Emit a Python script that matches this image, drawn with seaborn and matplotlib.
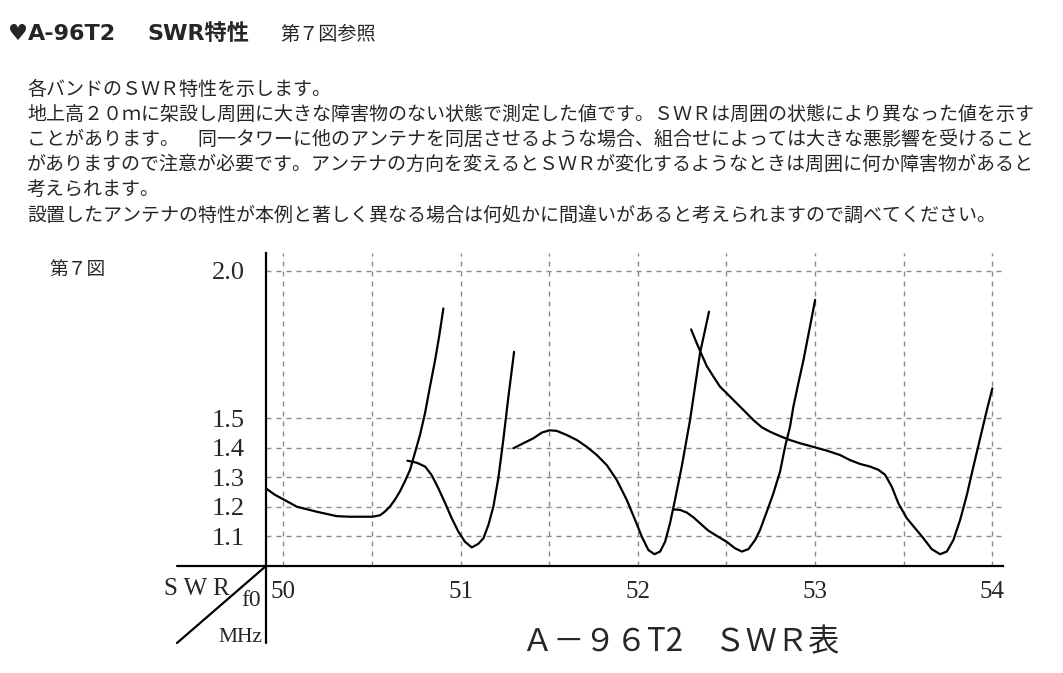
import matplotlib
matplotlib.use("Agg")
import matplotlib.pyplot as plt
import seaborn as sns

sns.set_theme(style="white")
plt.rcParams['font.family'] = ['Noto Sans CJK JP', 'DejaVu Sans']

# ---------------- data ----------------
c1_mhz = [49.902, 49.953, 50.000, 50.076, 50.188, 50.301, 50.376, 50.452, 50.502,
          50.546, 50.574, 50.602, 50.630, 50.658, 50.686, 50.715, 50.743, 50.771,
          50.799, 50.827, 50.856, 50.880, 50.903]
c1_swr = [1.263, 1.241, 1.226, 1.201, 1.184, 1.169, 1.167, 1.167, 1.167,
          1.172, 1.185, 1.202, 1.225, 1.253, 1.287, 1.326, 1.385, 1.444,
          1.517, 1.607, 1.697, 1.782, 1.873]

c2_mhz = [50.700, 50.753, 50.800, 50.837, 50.875, 50.913, 50.950, 50.988, 51.025,
          51.063, 51.100, 51.129, 51.157, 51.185, 51.213, 51.241, 51.270, 51.302]
c2_swr = [1.357, 1.350, 1.337, 1.308, 1.263, 1.213, 1.162, 1.116, 1.082,
          1.063, 1.075, 1.094, 1.139, 1.201, 1.297, 1.427, 1.574, 1.726]

c3_mhz = [51.298, 51.354, 51.411, 51.458, 51.501, 51.543, 51.599, 51.656, 51.712,
          51.769, 51.825, 51.881, 51.938, 51.985, 52.023, 52.060, 52.094, 52.126,
          52.154, 52.182, 52.210, 52.248, 52.295, 52.351, 52.402]
c3_swr = [1.399, 1.416, 1.433, 1.452, 1.460, 1.458, 1.444, 1.427, 1.404,
          1.376, 1.342, 1.292, 1.224, 1.156, 1.099, 1.054, 1.040, 1.049,
          1.082, 1.145, 1.224, 1.337, 1.495, 1.721, 1.862]

c4_mhz = [52.201, 52.239, 52.277, 52.314, 52.351, 52.398, 52.446, 52.502, 52.549,
          52.587, 52.624, 52.662, 52.690, 52.728, 52.765, 52.803, 52.831, 52.859,
          52.878, 52.906, 52.935, 52.968, 53.001]
c4_swr = [1.192, 1.190, 1.181, 1.165, 1.145, 1.120, 1.102, 1.082, 1.060,
          1.049, 1.057, 1.088, 1.122, 1.184, 1.246, 1.320, 1.404, 1.472,
          1.540, 1.619, 1.698, 1.800, 1.902]

c5_mhz = [52.301, 52.333, 52.361, 52.389, 52.427, 52.464, 52.511, 52.559, 52.606,
          52.652, 52.700, 52.747, 52.803, 52.859, 52.916, 53.001, 53.067, 53.142,
          53.198, 53.254, 53.311, 53.358, 53.396, 53.433, 53.471, 53.518, 53.565,
          53.612, 53.659, 53.706, 53.744, 53.781, 53.819, 53.857, 53.894, 53.932,
          53.970, 54.001]
c5_swr = [1.802, 1.755, 1.716, 1.678, 1.642, 1.608, 1.580, 1.551, 1.523,
          1.495, 1.470, 1.455, 1.440, 1.427, 1.416, 1.402, 1.391, 1.376,
          1.359, 1.346, 1.337, 1.326, 1.309, 1.269, 1.212, 1.162, 1.128,
          1.094, 1.057, 1.040, 1.049, 1.088, 1.156, 1.241, 1.337, 1.433,
          1.529, 1.602]

curves = [(c1_mhz, c1_swr), (c2_mhz, c2_swr), (c3_mhz, c3_swr),
          (c4_mhz, c4_swr), (c5_mhz, c5_swr)]

x_ticks = [50, 51, 52, 53, 54]
x_tick_labels = ["50", "51", "52", "53", "54"]
x_half_grid = [50.5, 51.5, 52.5, 53.5]
y_ticks = [1.1, 1.2, 1.3, 1.4, 1.5, 2.0]
y_tick_labels = ["1.1", "1.2", "1.3", "1.4", "1.5", "2.0"]

title_mark = "♥"
title_model = "A-96T2"
title_swr = "SWR特性"
title_ref = "第７図参照"
body_lines = [
    "各バンドのＳＷＲ特性を示します。",
    "地上高２０ｍに架設し周囲に大きな障害物のない状態で測定した値です。ＳＷＲは周囲の状態により異なった値を示す",
    "ことがあります。　同一タワーに他のアンテナを同居させるような場合、組合せによっては大きな悪影響を受けること",
    "がありますので注意が必要です。アンテナの方向を変えるとＳＷＲが変化するようなときは周囲に何か障害物があると",
    "考えられます。",
    "設置したアンテナの特性が本例と著しく異なる場合は何処かに間違いがあると考えられますので調べてください。",
]
fig_label = "第７図"
corner_swr = "S W R"
corner_f0 = "f0"
corner_mhz = "MHz"
chart_title = "Ａ－９６T2　ＳＷＲ表"

# ---------------- figure ----------------
W, H = 1063, 673
fig = plt.figure(figsize=(W / 100, H / 100), dpi=100)
fig.patch.set_facecolor("white")

def fx(px):
    return px / W

def fy(py):
    return 1 - py / H

ax_l, ax_r, ax_t, ax_b = 266, 1003, 253, 566
ax = fig.add_axes([fx(ax_l), fy(ax_b), (ax_r - ax_l) / W, (ax_b - ax_t) / H])
ax.set_facecolor("white")

for mhz, swr in curves:
    sns.lineplot(x=mhz, y=swr, ax=ax, color="black", linewidth=1.6,
                 sort=False, estimator=None, zorder=3)
for ln in ax.get_lines():
    ln.set_solid_joinstyle("round")
    ln.set_solid_capstyle("round")

ax.set_xlim(49.902, 54.061)
ax.set_ylim(1.0, 2.061)

ax.set_xticks(x_ticks)
ax.set_xticks(x_half_grid, minor=True)
ax.set_xticklabels(x_tick_labels, fontfamily="Liberation Serif", fontsize=18)
ax.set_yticks(y_ticks)
ax.set_yticklabels(y_tick_labels, fontfamily="Liberation Serif", fontsize=19)
ax.tick_params(axis="both", which="both", length=0)
ax.tick_params(axis="x", pad=11)
ax.tick_params(axis="y", pad=15)

grid_kw = dict(color="#8a8a8a", linewidth=1.0, linestyle=(0, (3.6, 3.6)))
ax.grid(True, axis="x", which="both", **grid_kw)
ax.grid(True, axis="y", which="major", **grid_kw)
ax.set_axisbelow(True)

for s in ["top", "right"]:
    ax.spines[s].set_visible(False)
for s in ["left", "bottom"]:
    ax.spines[s].set_color("black")
    ax.spines[s].set_linewidth(1.6)

# axis extensions and corner diagonal
ext_x = (177 - ax_l) / (ax_r - ax_l)
ext_y = -(643 - ax_b) / (ax_b - ax_t)
line_kw = dict(transform=ax.transAxes, clip_on=False, color="black", linewidth=1.6)
ax.plot([0, 0], [0, ext_y], **line_kw)
ax.plot([ext_x, 0], [0, 0], **line_kw)
ax.plot([ext_x, 0], [ext_y, 0], **line_kw)

# corner labels
serif = "Liberation Serif"
fig.text(fx(164), fy(589), corner_swr, fontfamily=serif, fontsize=18,
         ha="left", va="center")
fig.text(fx(261), fy(600), corner_f0, fontfamily=serif, fontsize=17,
         ha="right", va="center")
fig.text(fx(262), fy(637), corner_mhz, fontfamily=serif, fontsize=15.5,
         ha="right", va="center")

# chart title below
fig.text(fx(681), fy(642), chart_title, fontsize=22.5, ha="center", va="center")

# figure label
fig.text(fx(49), fy(269), fig_label, fontsize=13.5, ha="left", va="center")

# heading
cjk = ['Noto Sans CJK JP', 'DejaVu Sans']
head = ['DejaVu Sans', 'Noto Sans CJK JP']
fig.text(fx(8), fy(34), title_mark, family=head, fontsize=16,
         fontweight="bold", ha="left", va="center")
fig.text(fx(28), fy(34), title_model, family=head, fontsize=16,
         fontweight="bold", ha="left", va="center")
fig.text(fx(147), fy(34), title_swr, family=head, fontsize=16,
         fontweight="bold", ha="left", va="center")
fig.text(fx(280), fy(35), title_ref, family=cjk, fontsize=13.8,
         ha="left", va="center")

# body text
line_y = [89, 114, 139, 164, 189, 215]
for txt, py in zip(body_lines, line_y):
    fig.text(fx(27), fy(py), txt, family=cjk, fontsize=13.7,
             ha="left", va="center")

fig.savefig("out.png", dpi=100, facecolor="white")
